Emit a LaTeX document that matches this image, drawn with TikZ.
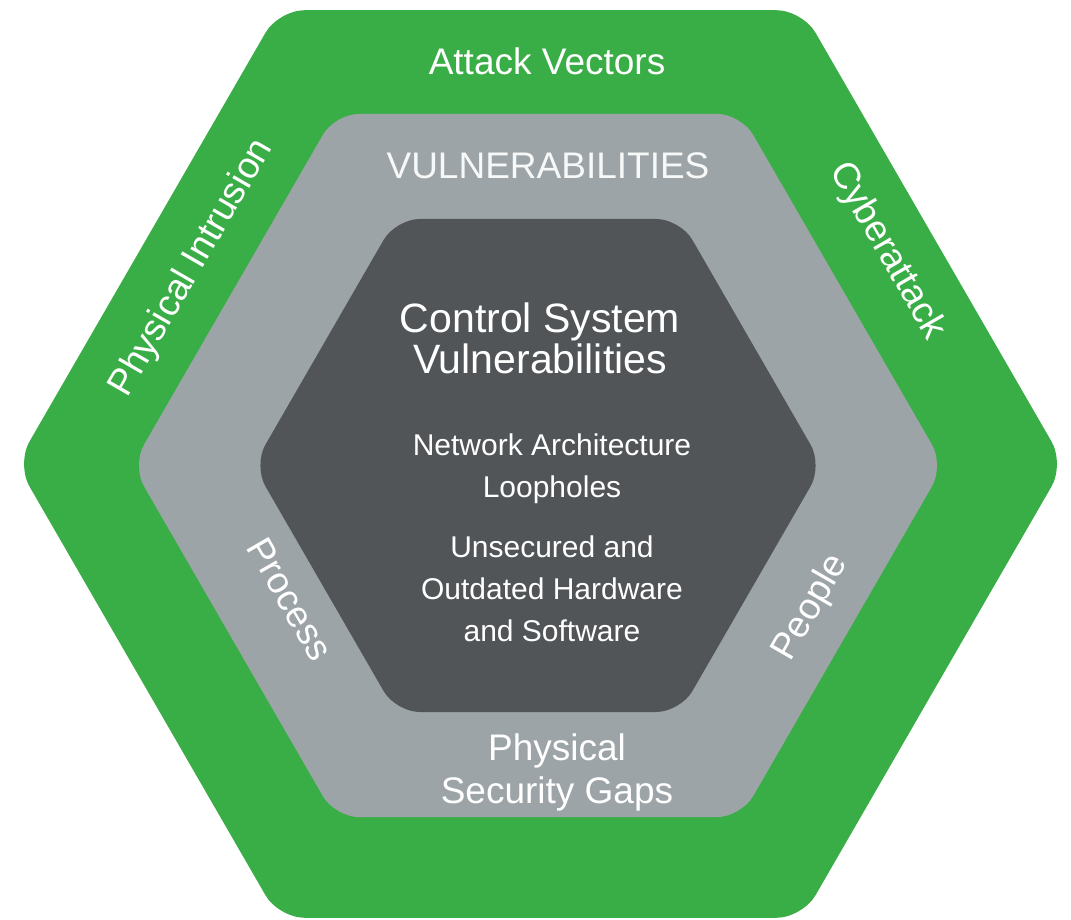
\documentclass[tikz,border=0pt]{standalone}
\usepackage{fontspec}
\setmainfont{Liberation Sans}
\definecolor{vecgreen}{RGB}{58,174,70}
\definecolor{vulngray}{RGB}{157,164,167}
\definecolor{coredark}{RGB}{81,85,88}

\begin{document}
\begin{tikzpicture}[x=1pt,y=-1pt,
    lbl/.style={white,inner sep=0pt,align=center},
    big/.style={lbl,font=\fontsize{41}{41}\selectfont},
    mid/.style={lbl,font=\fontsize{37}{43}\selectfont},
    small/.style={lbl,font=\fontsize{30}{42}\selectfont}]
  \useasboundingbox (0,0) rectangle (1071,920);

  % three nested hexagons, flat top and bottom
  \fill[vecgreen,rounded corners=26] (540.5,10.2) -- (802.5,10.2) -- (1064.5,464)
    -- (802.5,917.8) -- (278.5,917.8) -- (16.5,464) -- (278.5,10.2) -- cycle;
  \fill[vulngray,rounded corners=24] (538,113.9) -- (741,113.9) -- (944,465.5)
    -- (741,817.1) -- (335,817.1) -- (132,465.5) -- (335,113.9) -- cycle;
  \fill[coredark,rounded corners=24] (538,219) -- (680.3,219) -- (822.6,465.5)
    -- (680.3,712) -- (395.7,712) -- (253.4,465.5) -- (395.7,219) -- cycle;

  % outer ring: attack vectors
  \node[mid,anchor=base] (attack) at (547,75) {Attack Vectors};
  \node[mid,rotate=60] (intrusion) at (192,268) {Physical Intrusion};
  \node[mid,rotate=-60] (cyber) at (887,251) {Cyberattack};

  % middle ring: vulnerabilities
  \node[mid,anchor=base,white!92!vulngray] (vuln) at (548,179) {VULNERABILITIES};
  \node[mid,rotate=-60] (process) at (290,599) {Process};
  \node[mid,rotate=60] (people) at (811,608) {People};
  \node[mid] (gaps) at (557,772) {Physical\\Security Gaps};

  % core
  \node[big] (core) at (540,338) {Control System\\Vulnerabilities};
  \node[small] (network) at (552,469) {Network Architecture\\Loopholes};
  \node[small] (hardware) at (552,589) {Unsecured and\\Outdated Hardware\\and Software};
\end{tikzpicture}
\end{document}
